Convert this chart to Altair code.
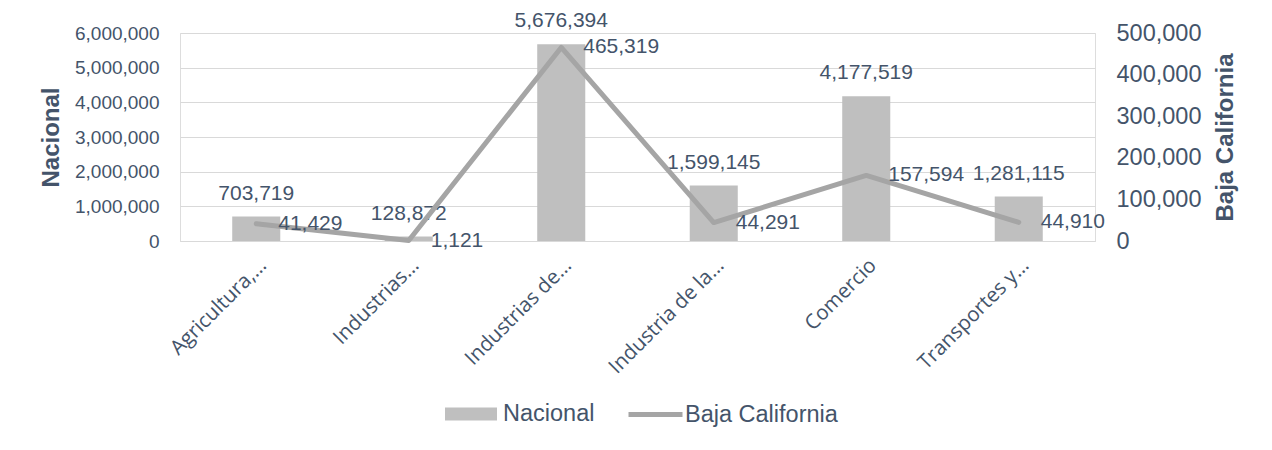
import altair as alt
import pandas as pd

categories = ["Agricultura,…", "Industrias…", "Industrias de…", "Industria de la…", "Comercio", "Transportes y…"]
nacional = [703719, 128872, 5676394, 1599145, 4177519, 1281115]
baja_california = [41429, 1121, 465319, 44291, 157594, 44910]
left_ticks = [0, 1000000, 2000000, 3000000, 4000000, 5000000, 6000000]
right_ticks = [0, 100000, 200000, 300000, 400000, 500000]

df = pd.DataFrame({
    "cat": categories,
    "Nacional": nacional,
    "Baja": baja_california,
    "s_bar": ["Nacional"] * len(categories),
    "s_line": ["Baja California"] * len(categories),
})

TXT = "#44546A"
GRID = "#D9D9D9"
BAR = "#BFBFBF"
LINE = "#A5A5A5"

x = alt.X("cat:N", sort=categories,
          scale=alt.Scale(paddingInner=0.685, paddingOuter=0.3425),
          axis=alt.Axis(title=None, labelAngle=-45, labelFont="Open Sans", labelFontSize=20.5,
                        labelColor=TXT, labelPadding=14, ticks=False, domainColor=GRID,
                        labelLimit=0))

left_axis = alt.Axis(values=left_ticks, format=",.0f", formatType="number", title="Nacional",
                     titleFontSize=24, titleFontWeight="bold", titleColor=TXT,
                     titleFont="Liberation Sans",
                     labelFontSize=19, labelColor=TXT, labelPadding=21, domain=False,
                     ticks=False, gridColor=GRID, titlePadding=11)
right_axis = alt.Axis(values=right_ticks, format=",.0f", formatType="number",
                      title="Baja California", titleFontSize=24,
                      titleFontWeight="bold", titleColor=TXT, titleFont="Liberation Sans",
                      labelFontSize=23.5, labelColor=TXT, labelPadding=21, domain=False,
                      ticks=False, grid=False, orient="right", titleAngle=270, titlePadding=37)

base_bar = alt.Chart(df).encode(
    x=x,
    y=alt.Y("Nacional:Q", scale=alt.Scale(domain=[0, 6000000]), axis=left_axis),
)
bars = base_bar.mark_bar(color=BAR).encode(
    color=alt.Color("s_bar:N", scale=alt.Scale(domain=["Nacional"], range=[BAR]),
                    legend=alt.Legend(title=None, orient="none", legendX=278, legendY=368,
                                      symbolType="M-2,-0.5H2V0.5H-2Z", symbolSize=676,
                                      labelOffset=19, labelFontSize=23.5, labelColor=TXT,
                                      labelFont="Liberation Sans", padding=0, symbolStrokeWidth=0))
)
bar_text = base_bar.mark_text(fontSize=21, color=TXT, baseline="middle", dy=-23,
                              font="Liberation Sans").encode(
    text=alt.Text("Nacional:Q", format=",")
)
left = alt.layer(bars, bar_text)

base_line = alt.Chart(df).encode(
    x=x,
    y=alt.Y("Baja:Q", scale=alt.Scale(domain=[0, 500000]), axis=right_axis),
)
line = base_line.mark_line(strokeWidth=5, strokeCap="round", strokeJoin="round").encode(
    stroke=alt.Stroke("s_line:N", scale=alt.Scale(domain=["Baja California"], range=[LINE]),
                      legend=alt.Legend(title=None, orient="none", legendX=446, legendY=352,
                                        symbolType="stroke", symbolSize=2916, symbolStrokeWidth=5,
                                        labelOffset=0, labelFontSize=23.5, labelColor=TXT,
                                        labelFont="Liberation Sans", padding=0))
)
line_text = base_line.mark_text(fontSize=21, color=TXT, baseline="middle", align="left", dx=22,
                                font="Liberation Sans").encode(
    text=alt.Text("Baja:Q", format=",")
)
right = alt.layer(line, line_text)

chart = alt.layer(left, right).resolve_scale(y="independent").properties(
    width=915, height=208,
    autosize=alt.AutoSizeParams(type="none"),
    padding={"left": 172, "top": 25, "right": 169, "bottom": 201},
).configure_view(stroke=None).configure(font="Liberation Sans")

chart.save("out.html", embed_options={"renderer": "svg", "actions": False})
